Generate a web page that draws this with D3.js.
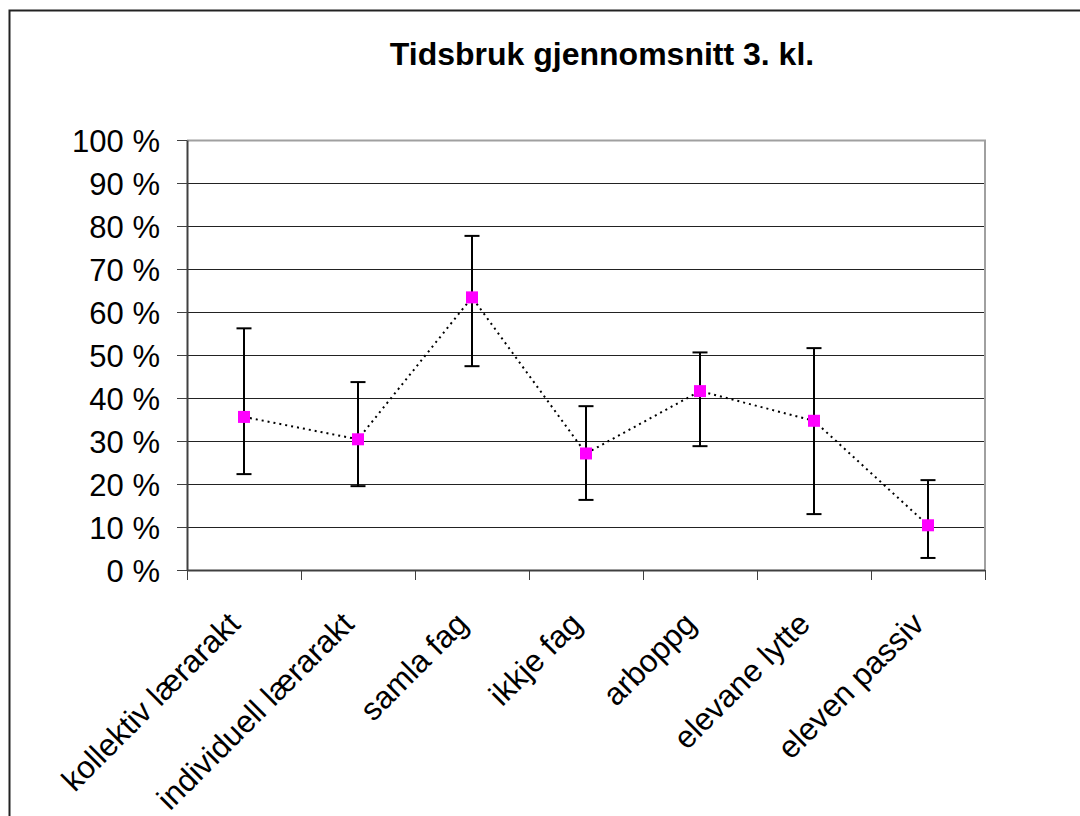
<!DOCTYPE html>
<html>
<head>
<meta charset="utf-8">
<script src="https://cdn.jsdelivr.net/npm/d3@7"></script>
<style>
  html, body { margin: 0; padding: 0; background: #fff; }
  svg { display: block; }
  text { font-family: "Liberation Sans", Arial, sans-serif; fill: #000; }
</style>
</head>
<body>
<svg id="chart" width="1080" height="816"></svg>
<script>
// Time use per activity, grade 3 average, with min/max range
const categories = ["kollektiv lærarakt", "individuell lærarakt", "samla fag", "ikkje fag", "arboppg", "elevane lytte", "eleven passiv"];
const meanValues = [35.6, 30.4, 63.4, 27.1, 41.6, 34.7, 10.4];
const upperValues = [56.2, 43.7, 77.7, 38.1, 50.6, 51.6, 20.9];
const lowerValues = [22.3, 19.5, 47.4, 16.3, 28.8, 13.0, 2.8];
const yTicks = [0, 10, 20, 30, 40, 50, 60, 70, 80, 90, 100];
const titleText = "Tidsbruk gjennomsnitt 3. kl.";

const svg = d3.select("#chart");

// outer chart frame (runs off the right and bottom edges)
svg.append("rect")
  .attr("x", 9.5).attr("y", 10.5)
  .attr("width", 1200).attr("height", 1000)
  .attr("fill", "none").attr("stroke", "#222").attr("stroke-width", 2);

const plot = { left: 187, right: 985, top: 140, bottom: 570 };

const x = d3.scaleBand().domain(categories).range([plot.left, plot.right]).paddingInner(0).paddingOuter(0);
const y = d3.scaleLinear().domain([0, 100]).range([plot.bottom, plot.top]);

// title
svg.append("text")
  .attr("x", 602).attr("y", 65)
  .attr("text-anchor", "middle")
  .attr("font-size", 32).attr("font-weight", "bold")
  .text(titleText);

// horizontal gridlines
svg.append("g").selectAll("line")
  .data(yTicks.filter(d => d > 0 && d < 100))
  .join("line")
  .attr("x1", plot.left).attr("x2", plot.right)
  .attr("y1", d => Math.round(y(d)) + 0.5).attr("y2", d => Math.round(y(d)) + 0.5)
  .attr("stroke", "#222").attr("stroke-width", 1);

// plot area border (top and right)
svg.append("path")
  .attr("d", `M${plot.left},${plot.top + 0.5}H${plot.right}V${plot.bottom}`)
  .attr("fill", "none").attr("stroke", "#a0a0a0").attr("stroke-width", 2);

// y axis
const yAxis = d3.axisLeft(y).tickValues(yTicks).tickSize(10).tickSizeOuter(0).tickPadding(17)
  .tickFormat(d => d + " %");
const gy = svg.append("g").attr("transform", `translate(${plot.left},0)`).call(yAxis);
gy.select(".domain").attr("stroke", "#404040").attr("stroke-width", 2);
gy.selectAll(".tick line").attr("stroke", "#404040").attr("stroke-width", 1);
gy.selectAll(".tick text").attr("font-size", 31).attr("font-family", "Liberation Sans, Arial, sans-serif")
  .attr("fill", "#000").attr("dy", "0.36em");

// x axis: ticks sit between categories
const boundaries = categories.map(c => x(c)).concat([plot.right]);
const gx = svg.append("g");
gx.append("line")
  .attr("x1", plot.left).attr("x2", plot.right)
  .attr("y1", plot.bottom + 0.5).attr("y2", plot.bottom + 0.5)
  .attr("stroke", "#404040").attr("stroke-width", 2);
gx.selectAll("line.tick")
  .data(boundaries)
  .join("line").attr("class", "tick")
  .attr("x1", d => Math.round(d) + 0.5).attr("x2", d => Math.round(d) + 0.5)
  .attr("y1", plot.bottom).attr("y2", plot.bottom + 10)
  .attr("stroke", "#404040").attr("stroke-width", 1);

// rotated category labels
gx.selectAll("text")
  .data(categories)
  .join("text")
  .attr("transform", d => `translate(${x(d) + x.bandwidth() / 2 - 18},${plot.bottom + 40}) rotate(-45)`)
  .attr("text-anchor", "end")
  .attr("dy", "0.71em")
  .attr("font-size", 31.5)
  .text(d => d);

const cx = d => x(d) + x.bandwidth() / 2;
const rows = categories.map((c, i) => ({ c, mean: meanValues[i], hi: upperValues[i], lo: lowerValues[i] }));

// dotted connector line
svg.append("path")
  .datum(rows)
  .attr("d", d3.line().x(d => cx(d.c)).y(d => y(d.mean)))
  .attr("fill", "none").attr("stroke", "#000").attr("stroke-width", 2)
  .attr("stroke-dasharray", "2,4");

// error bars
const eb = svg.append("g").selectAll("g").data(rows).join("g");
eb.append("line")
  .attr("x1", d => cx(d.c)).attr("x2", d => cx(d.c))
  .attr("y1", d => y(d.hi)).attr("y2", d => y(d.lo))
  .attr("stroke", "#000").attr("stroke-width", 2);
eb.append("line")
  .attr("x1", d => cx(d.c) - 7.5).attr("x2", d => cx(d.c) + 7.5)
  .attr("y1", d => y(d.hi)).attr("y2", d => y(d.hi))
  .attr("stroke", "#000").attr("stroke-width", 2);
eb.append("line")
  .attr("x1", d => cx(d.c) - 7.5).attr("x2", d => cx(d.c) + 7.5)
  .attr("y1", d => y(d.lo)).attr("y2", d => y(d.lo))
  .attr("stroke", "#000").attr("stroke-width", 2);

// square markers
svg.append("g").selectAll("rect")
  .data(rows)
  .join("rect")
  .attr("x", d => cx(d.c) - 6).attr("y", d => y(d.mean) - 6)
  .attr("width", 12).attr("height", 12)
  .attr("fill", "#ff00ff");
</script>
</body>
</html>
